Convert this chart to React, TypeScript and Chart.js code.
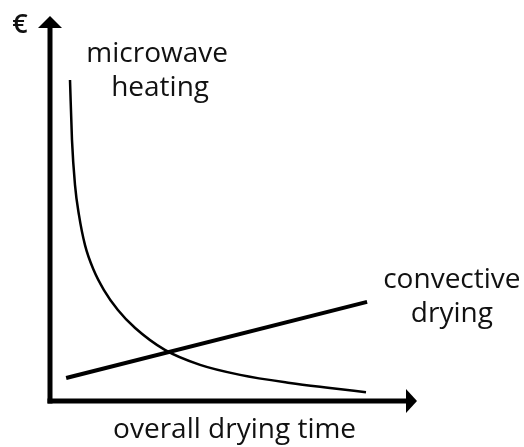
import React, { useEffect, useRef } from "react";
import { Chart, registerables } from "chart.js";

Chart.register(...registerables);

// microwave heating cost curve (x: drying time, y: cost), arbitrary units
const microwaveX = [5.45, 5.99, 6.81, 7.9, 9.54, 11.9, 14.7, 18.5, 23.2, 31.3, 40.9, 51.8, 65.4, 76.3, 86.1];
const microwaveY = [83.6, 68.0, 56.3, 48.4, 40.6, 34.1, 28.9, 23.7, 19.0, 13.3, 9.4, 6.8, 4.7, 3.4, 2.3];
// convective drying cost line
const convectiveX = [4.4, 86.4];
const convectiveY = [6.0, 25.8];

const seriesLabels = ["microwave heating", "convective drying"];
const xAxisTitle = "overall drying time";
const yAxisTitle = "€";

const FONT = "'Open Sans', 'Noto Sans', sans-serif";

const decorPlugin = {
  id: "decor",
  afterDraw(chart: any) {
    const { ctx, chartArea } = chart;
    const xs = chart.scales.x;
    const ys = chart.scales.y;
    const left = chartArea.left;
    const bottom = chartArea.bottom;
    const top = chartArea.top;
    const right = chartArea.right;
    ctx.save();
    ctx.fillStyle = "#000";
    ctx.strokeStyle = "#000";
    ctx.lineWidth = 5;
    ctx.lineCap = "butt";
    // y axis
    ctx.beginPath();
    ctx.moveTo(left, bottom + 2.5);
    ctx.lineTo(left, top + 10);
    ctx.stroke();
    ctx.beginPath();
    ctx.moveTo(left, top - 1);
    ctx.lineTo(left - 12, top + 11);
    ctx.lineTo(left + 12, top + 11);
    ctx.closePath();
    ctx.fill();
    // x axis
    ctx.beginPath();
    ctx.moveTo(left - 2.5, bottom);
    ctx.lineTo(right - 10, bottom);
    ctx.stroke();
    ctx.beginPath();
    ctx.moveTo(right, bottom);
    ctx.lineTo(right - 11, bottom - 12);
    ctx.lineTo(right - 11, bottom + 12);
    ctx.closePath();
    ctx.fill();

    // texts
    ctx.fillStyle = "#111";
    ctx.textAlign = "center";
    ctx.textBaseline = "alphabetic";
    ctx.font = `28px ${FONT}`;
    const [mw, cv] = seriesLabels;
    const mwParts = mw.split(" ");
    const cvParts = cv.split(" ");
    ctx.fillText(mwParts[0], xs.getPixelForValue(29.2), ys.getPixelForValue(88.3));
    ctx.fillText(mwParts[1], xs.getPixelForValue(30.0), ys.getPixelForValue(79.4));
    ctx.fillText(cvParts[0], xs.getPixelForValue(109.5), ys.getPixelForValue(29.4));
    ctx.fillText(cvParts[1], xs.getPixelForValue(109.5), ys.getPixelForValue(20.6));
    ctx.fillText(xAxisTitle, xs.getPixelForValue(50.3), bottom + 37);
    ctx.font = `600 27px ${FONT}`;
    ctx.fillText(yAxisTitle, left - 30, top + 16);
    ctx.restore();
  },
};

export default function App() {
  const ref = useRef<HTMLCanvasElement | null>(null);
  useEffect(() => {
    if (!ref.current) return;
    const chart = new Chart(ref.current, {
      type: "line",
      data: {
        datasets: [
          {
            label: seriesLabels[0],
            data: microwaveX.map((x, i) => ({ x, y: microwaveY[i] })),
            borderColor: "#000",
            borderWidth: 2.5,
            pointRadius: 0,
            cubicInterpolationMode: "monotone",
            fill: false,
          },
          {
            label: seriesLabels[1],
            data: convectiveX.map((x, i) => ({ x, y: convectiveY[i] })),
            borderColor: "#000",
            borderWidth: 4,
            pointRadius: 0,
            fill: false,
          },
        ],
      },
      options: {
        animation: false,
        responsive: true,
        maintainAspectRatio: false,
        layout: { padding: { left: 50, right: 107, top: 17, bottom: 46 } },
        plugins: { legend: { display: false }, tooltip: { enabled: false } },
        scales: {
          x: { type: "linear", min: 0, max: 100, display: false },
          y: { type: "linear", min: 0, max: 100, display: false },
        },
      },
      plugins: [decorPlugin],
    } as any);
    return () => chart.destroy();
  }, []);
  return (
    <div style={{ position: "absolute", left: 0, top: 0, width: 524, height: 447, background: "#fff" }}>
      <canvas ref={ref} />
    </div>
  );
}
